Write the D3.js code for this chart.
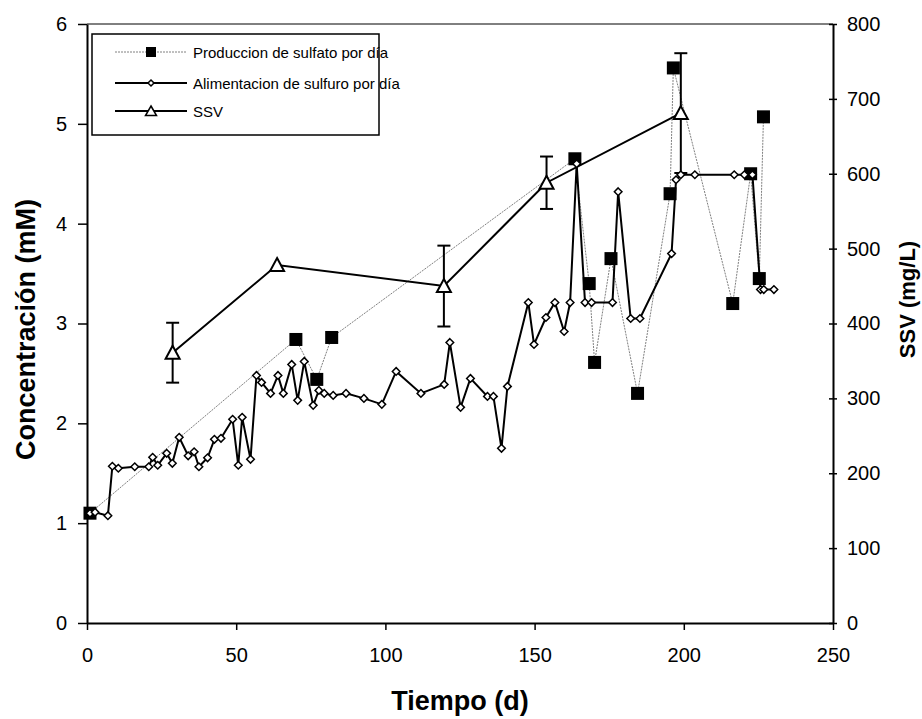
<!DOCTYPE html>
<html>
<head>
<meta charset="utf-8">
<script src="https://cdnjs.cloudflare.com/ajax/libs/d3/7.8.5/d3.min.js"></script>
<style>
body { margin: 0; background: #fff; }
svg { font-family: "Liberation Sans", Arial, sans-serif; }
</style>
</head>
<body>
<svg id="svg1" width="922" height="719"></svg>
<script>
var width = 922, height = 719;
var marginLeft = 87, marginTop = 24;
var plotW = 746, plotH = 599;

// Produccion de sulfato por dia (mM)
var sulfatoDia = [1, 70, 77, 82, 163.5, 168.3, 170.1, 175.6, 184.5, 195.4, 196.5, 216.4, 222.4, 225.3, 226.7];
var sulfatoVal = [1.1, 2.84, 2.44, 2.86, 4.65, 3.40, 2.61, 3.65, 2.30, 4.30, 5.56, 3.20, 4.50, 3.45, 5.07];

// Alimentacion de sulfuro por dia (mM)
var sulfuroDia = [1, 2.7, 7, 8.5, 10.5, 16, 20.7, 22, 23.7, 26.7, 28.6, 30.9, 33.9, 35.9, 37.5, 40.4, 42.7, 44.9,
    48.8, 50.7, 52, 54.8, 56.8, 58.5, 61.5, 64, 65.8, 68.6, 70.6, 72.8, 75.8, 77.7, 79.5, 82.5, 86.8, 92.8,
    98.8, 103.6, 111.9, 119.7, 121.6, 125.2, 128.5, 134.2, 136.2, 138.9, 140.9, 147.9, 149.8, 153.8, 156.8,
    159.9, 161.9, 164.1, 166.9, 169.1, 176.1, 178, 182.2, 185.3, 195.9, 197.4, 199, 203.7, 216.9, 220.3, 223,
    225.7, 226.8, 230.2];
var sulfuroVal = [1.1, 1.11, 1.075, 1.57, 1.55, 1.565, 1.565, 1.66, 1.58, 1.70, 1.6, 1.86, 1.675, 1.715, 1.565, 1.655, 1.84, 1.85,
    2.04, 1.58, 2.06, 1.64, 2.48, 2.41, 2.30, 2.48, 2.30, 2.59, 2.23, 2.62, 2.18, 2.33, 2.30, 2.28, 2.30, 2.25,
    2.19, 2.52, 2.30, 2.39, 2.81, 2.16, 2.45, 2.27, 2.27, 1.75, 2.37, 3.21, 2.79, 3.06, 3.21,
    2.92, 3.21, 4.6, 3.21, 3.21, 3.21, 4.32, 3.05, 3.05, 3.70, 4.44, 4.49, 4.49, 4.49, 4.49, 4.49,
    3.34, 3.34, 3.34];

// SSV (mg/L), eje derecho
var ssvDia = [28.7, 63.7, 119.6, 154, 199];
var ssvVal = [361, 478, 450, 588, 681];
var ssvErr = [40, 0, 54, 35, 80];

var xTicks = [0, 50, 100, 150, 200, 250];
var yTicks = [0, 1, 2, 3, 4, 5, 6];
var y2Ticks = [0, 100, 200, 300, 400, 500, 600, 700, 800];

var legendNames = ['Produccion de sulfato por día', 'Alimentacion de sulfuro por día', 'SSV'];

var scaleX = d3.scaleLinear().domain([0, 250]).range([0, plotW]);
var scaleY = d3.scaleLinear().domain([0, 6]).range([plotH, 0]);
var scaleY2 = d3.scaleLinear().domain([0, 800]).range([plotH, 0]);

var sulfato = sulfatoDia.map(function(d, i){ return {dia: d, val: sulfatoVal[i]}; });
var sulfuro = sulfuroDia.map(function(d, i){ return {dia: d, val: sulfuroVal[i]}; });
var ssv = ssvDia.map(function(d, i){ return {dia: d, val: ssvVal[i], err: ssvErr[i]}; });

var svg = d3.select('#svg1').append('g')
    .attr('transform', 'translate(' + marginLeft + ',' + marginTop + ')');

// top border
svg.append('line').attr('x1', 0).attr('x2', plotW).attr('y1', 0).attr('y2', 0)
    .attr('stroke', '#000').attr('stroke-width', 1);

// axes
var xAxis = svg.append('g').attr('transform', 'translate(0,' + plotH + ')')
    .call(d3.axisBottom(scaleX).tickValues(xTicks).tickFormat(d3.format('d'))
        .tickSizeInner(7).tickSizeOuter(0).tickPadding(18));
var yAxis = svg.append('g')
    .call(d3.axisLeft(scaleY).tickValues(yTicks).tickFormat(d3.format('d'))
        .tickSizeInner(9).tickSizeOuter(0).tickPadding(11));
var y2Axis = svg.append('g').attr('transform', 'translate(' + plotW + ',0)')
    .call(d3.axisRight(scaleY2).tickValues(y2Ticks).tickFormat(d3.format('d'))
        .tickSizeInner(4).tickSizeOuter(0).tickPadding(10));
y2Axis.selectAll('.tick line').attr('x1', -4);

[xAxis, yAxis, y2Axis].forEach(function(a){
    a.select('.domain').attr('stroke', '#000').attr('stroke-width', 2);
    a.selectAll('.tick line').attr('stroke', '#000').attr('stroke-width', 1.5);
    a.selectAll('.tick text').attr('font-size', 20).attr('fill', '#000')
        .attr('font-family', '"Liberation Sans", Arial, sans-serif');
});

// axis titles
svg.append('text').text('Tiempo (d)')
    .attr('x', plotW / 2).attr('y', 686)
    .attr('text-anchor', 'middle').attr('font-size', 27).attr('font-weight', 'bold');
svg.append('text').text('Concentración (mM)')
    .attr('transform', 'translate(-52,' + (plotH / 2 + 6) + ')rotate(-90)')
    .attr('text-anchor', 'middle').attr('font-size', 27).attr('font-weight', 'bold');
svg.append('text').text('SSV (mg/L)')
    .attr('transform', 'translate(828,' + (plotH / 2 - 24) + ')rotate(-90)')
    .attr('text-anchor', 'middle').attr('font-size', 22).attr('font-weight', 'bold');

// sulfato line (thin gray dotted) + squares
var lineGen = d3.line()
    .x(function(d){ return scaleX(d.dia); })
    .y(function(d){ return scaleY(d.val); });

svg.append('path').datum(sulfato)
    .attr('d', lineGen)
    .attr('fill', 'none').attr('stroke', '#808080').attr('stroke-width', 1)
    .attr('stroke-dasharray', '2,1');

// sulfuro line + diamonds
svg.append('path').datum(sulfuro)
    .attr('d', lineGen)
    .attr('fill', 'none').attr('stroke', '#000').attr('stroke-width', 2);

// SSV line
var lineSSV = d3.line()
    .x(function(d){ return scaleX(d.dia); })
    .y(function(d){ return scaleY2(d.val); });
svg.append('path').datum(ssv)
    .attr('d', lineSSV)
    .attr('fill', 'none').attr('stroke', '#000').attr('stroke-width', 2);

// error bars
var eb = svg.selectAll('.err').data(ssv.filter(function(d){ return d.err > 0; }))
    .enter().append('g').attr('class', 'err');
eb.append('line')
    .attr('x1', function(d){ return scaleX(d.dia); }).attr('x2', function(d){ return scaleX(d.dia); })
    .attr('y1', function(d){ return scaleY2(d.val - d.err); }).attr('y2', function(d){ return scaleY2(d.val + d.err); })
    .attr('stroke', '#000').attr('stroke-width', 2);
[-1, 1].forEach(function(s){
    eb.append('line')
        .attr('x1', function(d){ return scaleX(d.dia) - 6.5; }).attr('x2', function(d){ return scaleX(d.dia) + 6.5; })
        .attr('y1', function(d){ return scaleY2(d.val + s * d.err); }).attr('y2', function(d){ return scaleY2(d.val + s * d.err); })
        .attr('stroke', '#000').attr('stroke-width', 2);
});

var diamond = 'M0,-3.8L3.8,0L0,3.8L-3.8,0Z';
var triangle = 'M0,-7L7,6L-7,6Z';

svg.selectAll('.sq').data(sulfato).enter().append('rect')
    .attr('x', function(d){ return scaleX(d.dia) - 6.5; })
    .attr('y', function(d){ return scaleY(d.val) - 6.5; })
    .attr('width', 13).attr('height', 13).attr('fill', '#000');

svg.selectAll('.dm').data(sulfuro).enter().append('path')
    .attr('d', diamond)
    .attr('transform', function(d){ return 'translate(' + scaleX(d.dia) + ',' + scaleY(d.val) + ')'; })
    .attr('fill', '#fff').attr('stroke', '#000').attr('stroke-width', 1.5);

svg.selectAll('.tr').data(ssv).enter().append('path')
    .attr('d', triangle)
    .attr('transform', function(d){ return 'translate(' + scaleX(d.dia) + ',' + scaleY2(d.val) + ')'; })
    .attr('fill', '#fff').attr('stroke', '#000').attr('stroke-width', 2);

// legend
var legend = svg.append('g').attr('transform', 'translate(5,10)');
legend.append('rect').attr('x', 0).attr('y', 0).attr('width', 287).attr('height', 101)
    .attr('fill', '#fff').attr('stroke', '#000').attr('stroke-width', 1.5);
var rowsY = [18, 49, 77];
legendNames.forEach(function(name, i){
    var g = legend.append('g').attr('transform', 'translate(0,' + rowsY[i] + ')');
    g.append('line').attr('x1', 23).attr('x2', 95).attr('y1', 0).attr('y2', 0)
        .attr('stroke', i === 0 ? '#808080' : '#000').attr('stroke-width', i === 0 ? 1 : 2)
        .attr('stroke-dasharray', i === 0 ? '2,1' : null);
    if (i === 0) {
        g.append('rect').attr('x', 54).attr('y', -5).attr('width', 10).attr('height', 10).attr('fill', '#000');
    } else if (i === 1) {
        g.append('path').attr('d', 'M0,-3L3,0L0,3L-3,0Z').attr('transform', 'translate(59,0)')
            .attr('fill', '#fff').attr('stroke', '#000').attr('stroke-width', 1.5);
    } else {
        g.append('path').attr('d', 'M0,-5L5.5,4.5L-5.5,4.5Z').attr('transform', 'translate(59,0)')
            .attr('fill', '#fff').attr('stroke', '#000').attr('stroke-width', 1.5);
    }
    g.append('text').text(name).attr('x', 101).attr('y', 5.5)
        .attr('font-size', 15).attr('fill', '#000');
});
</script>
</body>
</html>
